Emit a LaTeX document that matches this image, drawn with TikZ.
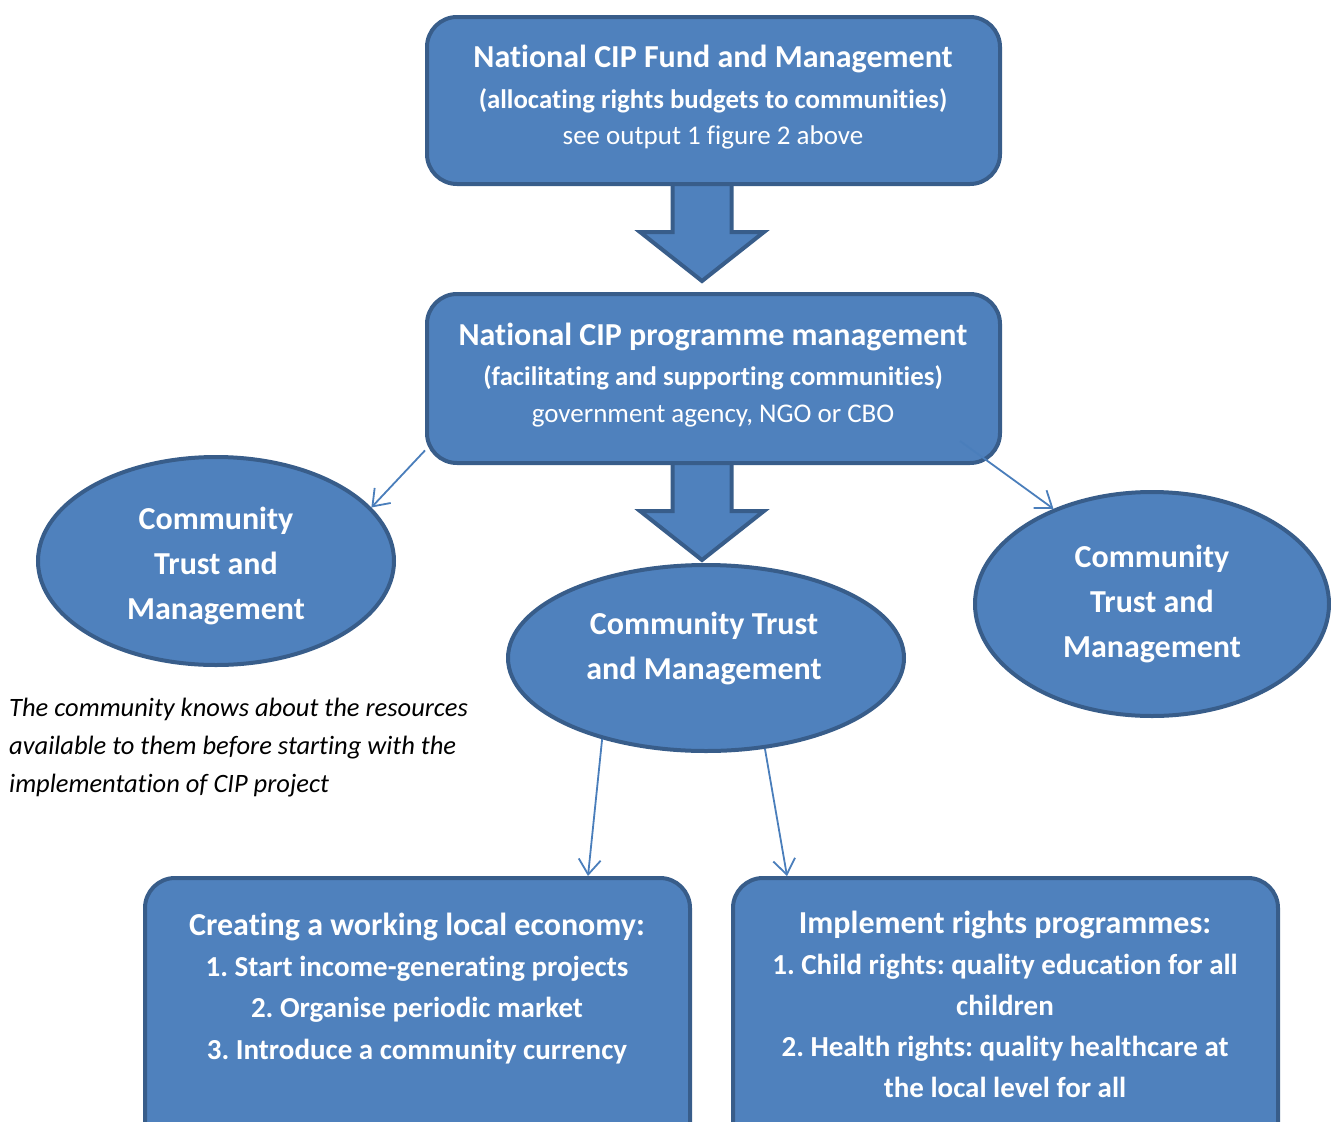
\documentclass[tikz,border=0pt]{standalone}
\usepackage{fontspec}
\setmainfont{Carlito}[Ligatures=NoCommon]
\usetikzlibrary{shapes.geometric,arrows.meta,calc}
\definecolor{fillc}{HTML}{4F81BD}
\definecolor{bordc}{HTML}{385D8A}
\definecolor{connc}{HTML}{4A7EBB}
\frenchspacing
\begin{document}
\begin{tikzpicture}[x=1pt,y=-1pt,
  box/.style={draw=bordc,fill=fillc,line width=4pt,rounded corners=30pt,inner sep=0pt,outer sep=2pt},
  ell/.style={ellipse,draw=bordc,fill=fillc,line width=4pt,inner sep=0pt,outer sep=2pt},
  blk/.style={draw=bordc,fill=fillc,line width=4pt,line join=miter},
  conn/.style={draw=connc,line width=1.8pt,-{Straight Barb[length=15pt,width=22pt,line width=1.8pt]}},
  big/.style={text=white,font=\bfseries\fontsize{32}{38}\selectfont,anchor=base,inner sep=0pt},
  mid/.style={text=white,font=\bfseries\fontsize{26.8}{32}\selectfont,anchor=base,inner sep=0pt},
  reg/.style={text=white,font=\fontsize{27}{32}\selectfont,anchor=base,inner sep=0pt},
  itm/.style={text=white,font=\bfseries\fontsize{29}{34}\selectfont,anchor=base,inner sep=0pt},
  etx/.style={text=white,font=\bfseries\fontsize{32}{45}\selectfont,align=center,inner sep=0pt},
  note/.style={text=black,font=\itshape\fontsize{26.5}{38}\selectfont,align=left,anchor=north west,inner sep=0pt}]
\useasboundingbox (0,0) rectangle (1331,1122);
\clip (0,0) rectangle (1331,1122);

% ellipses
\node[ell,minimum width=356pt,minimum height=208pt] (le) at (216,561) {};
\node[ell,minimum width=396pt,minimum height=186pt] (me) at (706,658) {};
\node[ell,minimum width=354pt,minimum height=224pt] (re) at (1152,604) {};

% block arrows (drawn under the boxes)
\coordinate (a1) at (702,186);
\coordinate (a2) at (702,465);
\draw[blk] ($(a1)+(-29.5,-8)$) -- ($(a1)+(-29.5,46)$) -- ($(a1)+(-62,46)$) -- ($(a1)+(0,95)$) -- ($(a1)+(62,46)$) -- ($(a1)+(29.5,46)$) -- ($(a1)+(29.5,-8)$) -- cycle;
\draw[blk] ($(a2)+(-29.5,-8)$) -- ($(a2)+(-29.5,46)$) -- ($(a2)+(-62,46)$) -- ($(a2)+(0,95)$) -- ($(a2)+(62,46)$) -- ($(a2)+(29.5,46)$) -- ($(a2)+(29.5,-8)$) -- cycle;

% boxes
\node[box,minimum width=573pt,minimum height=167pt] (b1) at (713.5,100.5) {};
\node[box,minimum width=573pt,minimum height=169pt] (b2) at (713.5,378.5) {};
\node[box,minimum width=545pt,minimum height=282pt] (b3) at (417.5,1019) {};
\node[box,minimum width=545pt,minimum height=282pt] (b4) at (1005.5,1019) {};

% connectors
\draw[conn] (b2.194) -- (le.19);
\draw[conn] ($(b2.south east)+(-42,-24)$) -- (re.136);
\draw[conn] (me.218.5) -- ($(b3.north)+(170.5,0)$);
\draw[conn] (me.303) -- ($(b4.north)+(-218.5,0)$);

% texts
\node[big] (t1a) at (713,67) {National CIP Fund and Management};
\node[mid] (t1b) at (713,108) {(allocating rights budgets to communities)};
\node[reg] (t1c) at (713,144) {see output 1 figure 2 above};

\node[big] (t2a) at (713,345) {National CIP programme management};
\node[mid] (t2b) at (713,385) {(facilitating and supporting communities)};
\node[reg] (t2c) at (713,422) {government agency, NGO or CBO};

\node[etx] (tle) at (216,566) {Community\\Trust and\\Management};
\node[etx] (tme) at (704,648) {Community Trust\\and Management};
\node[etx] (tre) at (1152,604) {Community\\Trust and\\Management};

\node[note] (nt) at (9,698) {The community knows about the resources\\available to them before starting with the\\implementation of CIP project};

\node[big] (t3a) at (417,935) {Creating a working local economy:};
\node[itm] (t3b) at (417,976) {1. Start income-generating projects};
\node[itm] (t3c) at (417,1017) {2. Organise periodic market};
\node[itm] (t3d) at (417,1059) {3. Introduce a community currency};

\node[big] (t4a) at (1005,933) {Implement rights programmes:};
\node[itm] (t4b) at (1005,974) {1. Child rights: quality education for all};
\node[itm] (t4c) at (1005,1015) {children};
\node[itm] (t4d) at (1005,1056) {2. Health rights: quality healthcare at};
\node[itm] (t4e) at (1005,1097) {the local level for all};
\end{tikzpicture}
\end{document}
